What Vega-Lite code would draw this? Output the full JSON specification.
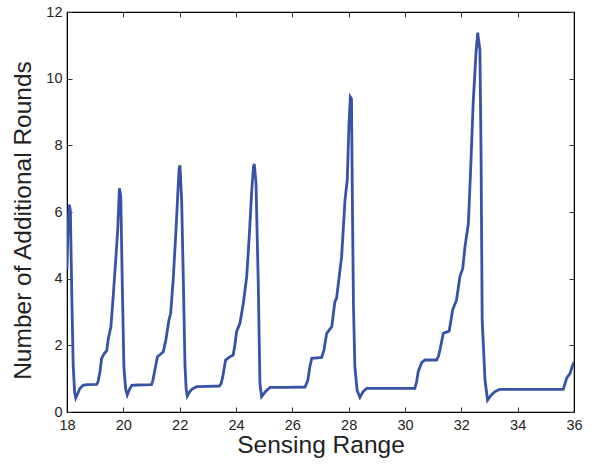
{
  "$schema": "https://vega.github.io/schema/vega-lite/v6.json",
  "width": 507,
  "height": 400,
  "autosize": "none",
  "padding": {"left": 67, "top": 12, "right": 22, "bottom": 53},
  "background": "white",
  "config": {
    "view": {"stroke": "#000", "strokeWidth": 1.2},
    "axis": {
      "labelFont": "Liberation Sans",
      "titleFont": "Liberation Sans",
      "labelFontSize": 14.5,
      "titleFontSize": 24.5,
      "titleFontWeight": "normal",
      "labelColor": "#222",
      "titleColor": "#222",
      "domainColor": "#000",
      "tickColor": "#333",
      "tickSize": -5,
      "labelFlush": false,
      "grid": false
    }
  },
  "data": {
    "values": [
      {"r": 18.0, "v": 4.3}, {"r": 18.04, "v": 5.6}, {"r": 18.08, "v": 6.22}, {"r": 18.12, "v": 6.05},
      {"r": 18.17, "v": 3.5}, {"r": 18.22, "v": 1.4}, {"r": 18.27, "v": 0.6}, {"r": 18.31, "v": 0.42},
      {"r": 18.38, "v": 0.55}, {"r": 18.45, "v": 0.7}, {"r": 18.57, "v": 0.8}, {"r": 18.7, "v": 0.82},
      {"r": 19.05, "v": 0.83}, {"r": 19.1, "v": 0.9}, {"r": 19.17, "v": 1.21}, {"r": 19.23, "v": 1.61},
      {"r": 19.31, "v": 1.74}, {"r": 19.41, "v": 1.84}, {"r": 19.47, "v": 2.21}, {"r": 19.56, "v": 2.56},
      {"r": 19.64, "v": 3.46}, {"r": 19.73, "v": 4.56}, {"r": 19.8, "v": 5.46}, {"r": 19.86, "v": 6.71},
      {"r": 19.91, "v": 6.46}, {"r": 19.96, "v": 3.96}, {"r": 20.02, "v": 1.36}, {"r": 20.08, "v": 0.7},
      {"r": 20.14, "v": 0.51}, {"r": 20.22, "v": 0.68}, {"r": 20.3, "v": 0.8}, {"r": 20.5, "v": 0.81},
      {"r": 21.0, "v": 0.82}, {"r": 21.05, "v": 0.95}, {"r": 21.12, "v": 1.26}, {"r": 21.21, "v": 1.66},
      {"r": 21.33, "v": 1.74}, {"r": 21.42, "v": 1.81}, {"r": 21.51, "v": 2.16}, {"r": 21.62, "v": 2.76},
      {"r": 21.68, "v": 2.96}, {"r": 21.77, "v": 3.96}, {"r": 21.87, "v": 5.46}, {"r": 21.94, "v": 6.66},
      {"r": 21.98, "v": 7.3}, {"r": 22.01, "v": 7.4}, {"r": 22.07, "v": 6.36}, {"r": 22.13, "v": 3.96},
      {"r": 22.19, "v": 1.36}, {"r": 22.23, "v": 0.7}, {"r": 22.27, "v": 0.48}, {"r": 22.35, "v": 0.6},
      {"r": 22.43, "v": 0.68}, {"r": 22.6, "v": 0.76}, {"r": 23.0, "v": 0.77}, {"r": 23.41, "v": 0.78},
      {"r": 23.47, "v": 0.85}, {"r": 23.53, "v": 1.06}, {"r": 23.63, "v": 1.56}, {"r": 23.79, "v": 1.66},
      {"r": 23.9, "v": 1.71}, {"r": 23.96, "v": 2.0}, {"r": 24.02, "v": 2.41}, {"r": 24.14, "v": 2.66},
      {"r": 24.26, "v": 3.26}, {"r": 24.38, "v": 4.06}, {"r": 24.47, "v": 5.26}, {"r": 24.56, "v": 6.66},
      {"r": 24.62, "v": 7.35}, {"r": 24.65, "v": 7.44}, {"r": 24.71, "v": 6.87}, {"r": 24.79, "v": 3.86},
      {"r": 24.85, "v": 0.86}, {"r": 24.91, "v": 0.46}, {"r": 25.05, "v": 0.62}, {"r": 25.21, "v": 0.74},
      {"r": 25.8, "v": 0.74}, {"r": 26.45, "v": 0.75}, {"r": 26.55, "v": 0.95}, {"r": 26.62, "v": 1.35},
      {"r": 26.69, "v": 1.61}, {"r": 27.04, "v": 1.64}, {"r": 27.12, "v": 1.85}, {"r": 27.22, "v": 2.36},
      {"r": 27.4, "v": 2.56}, {"r": 27.51, "v": 3.31}, {"r": 27.57, "v": 3.41}, {"r": 27.75, "v": 4.66},
      {"r": 27.87, "v": 6.36}, {"r": 27.95, "v": 6.96}, {"r": 28.01, "v": 8.6}, {"r": 28.06, "v": 9.45},
      {"r": 28.1, "v": 9.4}, {"r": 28.13, "v": 6.5}, {"r": 28.17, "v": 3.2}, {"r": 28.22, "v": 1.36},
      {"r": 28.3, "v": 0.65}, {"r": 28.4, "v": 0.44}, {"r": 28.52, "v": 0.62}, {"r": 28.64, "v": 0.71},
      {"r": 29.5, "v": 0.71}, {"r": 30.35, "v": 0.71}, {"r": 30.41, "v": 0.9}, {"r": 30.47, "v": 1.21},
      {"r": 30.59, "v": 1.48}, {"r": 30.71, "v": 1.56}, {"r": 31.12, "v": 1.56}, {"r": 31.19, "v": 1.68},
      {"r": 31.24, "v": 1.86}, {"r": 31.36, "v": 2.36}, {"r": 31.57, "v": 2.43}, {"r": 31.69, "v": 3.06},
      {"r": 31.83, "v": 3.36}, {"r": 31.95, "v": 4.06}, {"r": 32.05, "v": 4.31}, {"r": 32.13, "v": 4.96},
      {"r": 32.25, "v": 5.66}, {"r": 32.33, "v": 7.26}, {"r": 32.42, "v": 9.26}, {"r": 32.52, "v": 10.76},
      {"r": 32.58, "v": 11.38}, {"r": 32.66, "v": 10.86}, {"r": 32.7, "v": 7.76}, {"r": 32.74, "v": 2.76},
      {"r": 32.84, "v": 0.96}, {"r": 32.93, "v": 0.36}, {"r": 33.05, "v": 0.5}, {"r": 33.19, "v": 0.61},
      {"r": 33.37, "v": 0.68}, {"r": 34.5, "v": 0.68}, {"r": 35.62, "v": 0.68}, {"r": 35.68, "v": 0.85},
      {"r": 35.74, "v": 1.01}, {"r": 35.86, "v": 1.16}, {"r": 35.93, "v": 1.35}, {"r": 36.0, "v": 1.5}
    ]
  },
  "layer": [
    {
      "mark": {"type": "line", "color": "#3653a6", "strokeWidth": 2.8, "clip": true},
      "encoding": {
        "x": {"field": "r", "type": "quantitative", "scale": {"domain": [18, 36], "nice": false, "zero": false},
              "axis": {"title": "Sensing Range", "values": [18,20,22,24,26,28,30,32,34,36], "labelPadding": 11, "titlePadding": 2, "domain": true}},
        "y": {"field": "v", "type": "quantitative", "scale": {"domain": [0, 12], "nice": false},
              "axis": {"title": "Number of Additional Rounds", "values": [0,2,4,6,8,10,12], "labelPadding": 10, "titlePadding": 10, "titleY": 208}}
      }
    },
    {
      "mark": {"type": "point", "opacity": 0},
      "encoding": {
        "x": {"field": "r", "type": "quantitative", "scale": {"domain": [18, 36], "nice": false, "zero": false},
              "axis": {"orient": "top", "title": null, "labels": false, "values": [18,20,22,24,26,28,30,32,34,36]}},
        "y": {"field": "v", "type": "quantitative", "scale": {"domain": [0, 12], "nice": false},
              "axis": {"orient": "right", "title": null, "labels": false, "values": [0,2,4,6,8,10,12]}}
      }
    }
  ],
  "resolve": {"axis": {"x": "independent", "y": "independent"}}
}
